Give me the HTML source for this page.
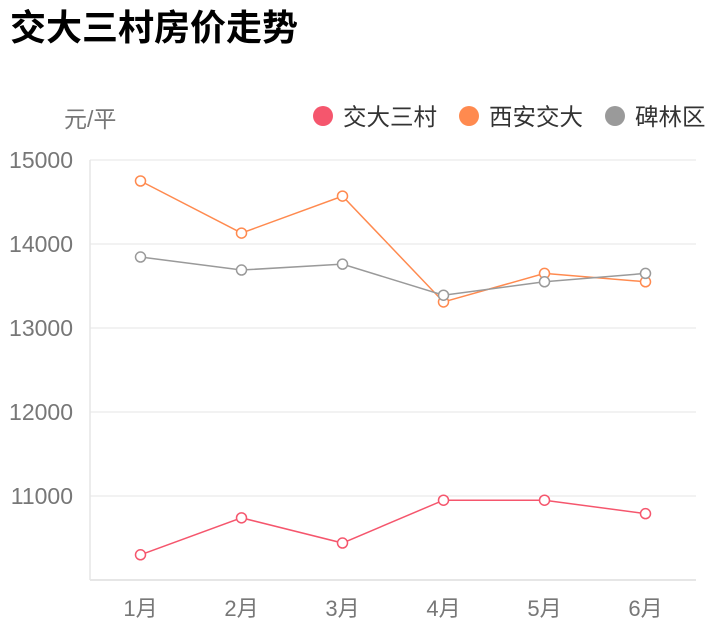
<!DOCTYPE html>
<html><head><meta charset="utf-8">
<style>
html,body{margin:0;padding:0;background:#fff;width:718px;height:640px;overflow:hidden;}
text{font-family:"Liberation Sans","Noto Sans CJK SC",sans-serif;}
</style></head>
<body>
<svg id="chart" width="718" height="640">
  <text x="10" y="40" font-size="36" font-weight="bold" fill="#000">交大三村房价走势</text>
  <text x="64" y="127" font-size="23" fill="#777">元/平</text>
  <g id="legend"></g>
  <g id="grid"></g>
  <g id="series"></g>
</svg>
<script>
const categories = ['1月','2月','3月','4月','5月','6月'];
const seriesNames = ['交大三村','西安交大','碑林区'];
const seriesJiaoda = [10300,10740,10440,10950,10950,10790];
const seriesXian = [14750,14130,14570,13310,13650,13550];
const seriesBeilin = [13845,13690,13760,13390,13550,13650];
const yTicks = [11000,12000,13000,14000,15000];

const colors = ['#f5566d','#ff8a4f','#9a9a9a'];
const allSeries = [seriesJiaoda, seriesXian, seriesBeilin];
const NS = 'http://www.w3.org/2000/svg';
const x0 = 90, x1 = 696, yMin = 10000, yMax = 15000, yTop = 160, yBot = 580;
const band = (x1 - x0) / categories.length;
function xScale(i){ return x0 + band * (i + 0.5); }
function yScale(v){ return yBot - (v - yMin) / (yMax - yMin) * (yBot - yTop); }
function mk(tag, attrs, parent){ const e=document.createElementNS(NS,tag); for(const k in attrs) e.setAttribute(k,attrs[k]); parent.appendChild(e); return e; }

const grid = document.getElementById('grid');
yTicks.forEach(t=>{
  const l = mk('line',{x1:x0,x2:x1,y1:yScale(t),y2:yScale(t),stroke:'#e6e6e6','stroke-width':1},grid);
  
  
  const tx = mk('text',{x:73,y:yScale(t)+8,'text-anchor':'end','font-size':23,fill:'#777'},grid);
  tx.textContent = t;
  
  
});
const ax = mk('line',{x1:x0,x2:x1,y1:yBot,y2:yBot,stroke:'#ddd','stroke-width':1.5},grid);


const ay = mk('line',{x1:x0,x2:x0,y1:yTop,y2:yBot,stroke:'#e6e6e6','stroke-width':1.5},grid);


categories.forEach((c,i)=>{
  const tx = mk('text',{x:xScale(i),y:616,'text-anchor':'middle','font-size':22,fill:'#777'},grid);
  tx.textContent = c;
  
  
});

const sg = document.getElementById('series');
allSeries.forEach((s,si)=>{
  const pts = s.map((v,i)=>xScale(i)+','+yScale(v)).join(' ');
  const pl = mk('polyline',{points:pts,fill:'none',stroke:colors[si],'stroke-width':1.5},sg);
  
  
  s.forEach((v,i)=>{
    const c = mk('circle',{cx:xScale(i),cy:yScale(v),r:5,fill:'#fff',stroke:colors[si],'stroke-width':1.5},sg);
    
    
  });
});

const lg = document.getElementById('legend');
const lx = [323,469,615];
seriesNames.forEach((n,i)=>{
  const c = mk('circle',{cx:lx[i],cy:116,r:10,fill:colors[i]},lg);
  
  
  const t = mk('text',{x:lx[i]+20,y:125,'font-size':23.5,fill:'#333'},lg);
  t.textContent = n;
  
  
});
</script>
</body></html>
